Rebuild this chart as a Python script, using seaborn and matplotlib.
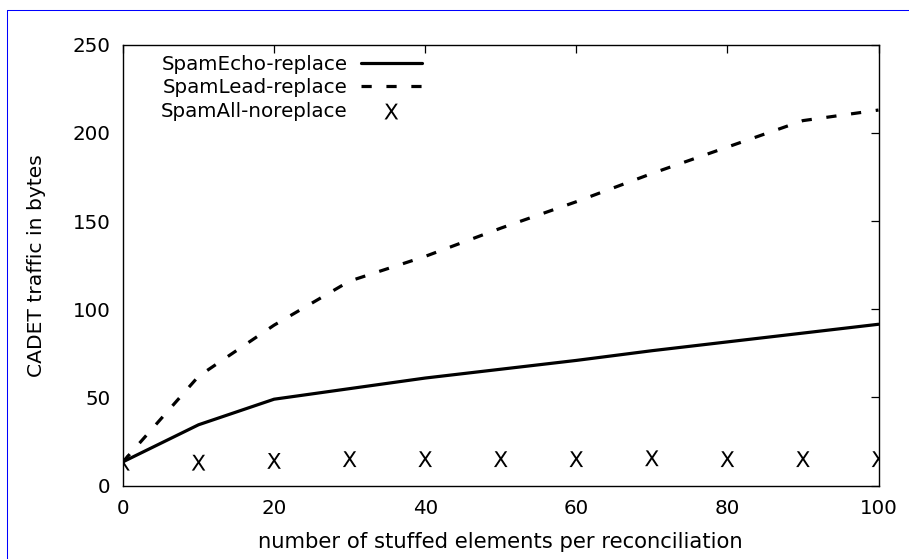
import matplotlib
matplotlib.use("Agg")
import matplotlib.pyplot as plt
from matplotlib.lines import Line2D
import pandas as pd
import seaborn as sns

# Measured CADET traffic per reconciliation
stuffed = [0, 10, 20, 30, 40, 50, 60, 70, 80, 90, 100]
spam_echo = [13.5, 34.5, 49, 55, 61, 66, 71, 76.5, 81.5, 86.5, 91.5]
spam_lead = [13.5, 62, 91, 116, 130, 146, 161, 177, 192, 207, 213]
spam_all = [13, 13, 14, 15, 15, 15, 15, 15.5, 15, 15, 15]

x_ticks = [0, 20, 40, 60, 80, 100]
y_ticks = [0, 50, 100, 150, 200, 250]

df = pd.DataFrame({"n": stuffed, "echo": spam_echo, "lead": spam_lead, "all": spam_all})

sns.set_theme(style="white")
plt.rcParams["font.family"] = ["DejaVu Sans"]
plt.rcParams["text.color"] = "black"
plt.rcParams["axes.labelcolor"] = "black"

FS = 14.3

fig = plt.figure(figsize=(9.09, 5.59), dpi=100)
ax = fig.add_axes([123 / 909, 1 - 485.6 / 559, (878.5 - 123) / 909, (485.6 - 44.8) / 559])

sns.lineplot(data=df, x="n", y="echo", ax=ax, color="black", linewidth=2.3,
             label="SpamEcho-replace")
sns.lineplot(data=df, x="n", y="lead", ax=ax, color="black", linewidth=2.3,
             label="SpamLead-replace")
ax.lines[1].set_linestyle((0, (3.2, 4.6)))
ax.lines[1].set_dash_capstyle("butt")
sns.scatterplot(data=df, x="n", y="all", ax=ax, marker="$\\mathsf{X}$", s=130,
                color="black", edgecolor="none", linewidth=0,
                label="SpamAll-noreplace")

ax.set_xlim(0, 100)
ax.set_ylim(0, 250)
ax.set_xticks(x_ticks)
ax.set_yticks(y_ticks)
ax.tick_params(direction="in", length=5.8, width=0.9, top=True, right=True,
               labelsize=FS, colors="black")
ax.tick_params(axis="y", pad=9)
ax.tick_params(axis="x", pad=10)
for s in ax.spines.values():
    s.set_linewidth(1.0)
    s.set_color("black")
    s.set_visible(True)

ax.set_xlabel("number of stuffed elements per reconciliation", fontsize=15.2,
              labelpad=10, color="black")
ax.set_ylabel("CADET traffic in bytes", fontsize=14.6, labelpad=19, color="black")

leg = ax.legend(loc="upper left", bbox_to_anchor=(161 / 909, 1 - 55 / 559),
                bbox_transform=fig.transFigure, frameon=False, markerfirst=False,
                fontsize=FS, handlelength=3.1, handletextpad=0.65,
                labelspacing=0.22, borderpad=0, borderaxespad=0)
for t in leg.get_texts():
    t.set_color("black")

# page frame
fig.add_artist(Line2D([7.5 / 909, 1], [1 - 9.5 / 559, 1 - 9.5 / 559], color="#0000ff", lw=0.75))
fig.add_artist(Line2D([7.5 / 909, 7.5 / 909], [0, 1 - 9.5 / 559], color="#0000ff", lw=0.75))

fig.savefig("out.png", dpi=100)
